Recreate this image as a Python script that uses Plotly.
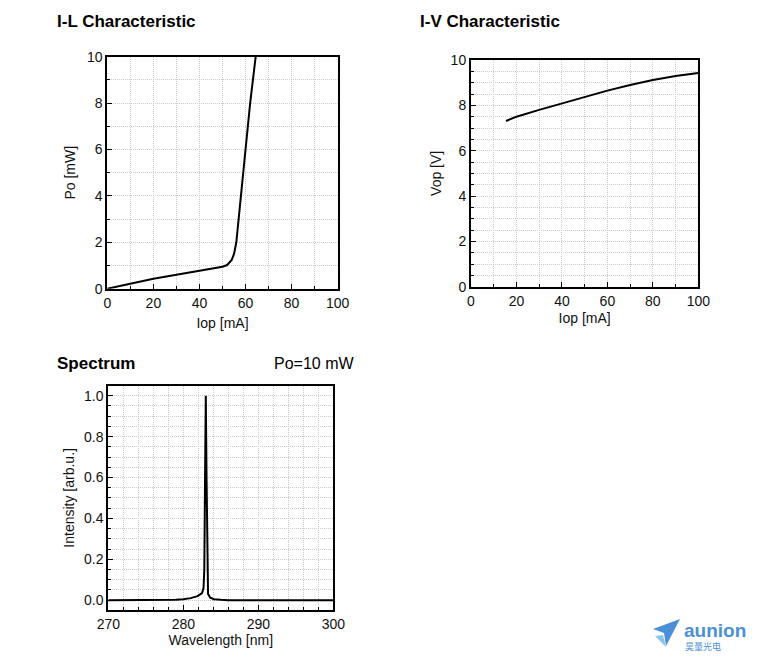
import plotly.graph_objects as go

# ---- data ----
il_current = [0, 10, 20, 30, 40, 50, 52, 54, 55, 56, 58, 60, 62, 64.4]
il_power = [0, 0.22, 0.43, 0.6, 0.78, 0.95, 1.02, 1.24, 1.5, 2.0, 4.0, 6.0, 8.0, 10.0]

iv_current = [15.4, 20, 30, 40, 50, 60, 70, 80, 90, 100]
iv_voltage = [7.31, 7.5, 7.8, 8.09, 8.38, 8.65, 8.9, 9.12, 9.29, 9.43]

sp_wavelength = [270, 275, 279, 280, 281, 281.9, 282.5, 282.7, 282.8, 282.9, 283.0,
                 283.1, 283.2, 283.3, 283.6, 284.1, 285, 286, 300]
sp_intensity = [0, 0, 0.002, 0.005, 0.01, 0.02, 0.035, 0.06, 0.15, 0.6, 1.0,
                0.6, 0.1, 0.03, 0.012, 0.005, 0.002, 0, 0]

FONT = "Liberation Sans, Arial, sans-serif"
GRID = "#cbcbcb"
DASH = "1px,1px"
W, H = 760, 659
OFF = 8  # page body margin


def px(x):
    return (x - OFF) / W


def py(y):
    return 1 - (y - OFF) / H


fig = go.Figure()
fig.add_trace(go.Scatter(x=il_current, y=il_power, mode="lines",
                         line=dict(color="black", width=2), xaxis="x", yaxis="y"))
fig.add_trace(go.Scatter(x=iv_current, y=iv_voltage, mode="lines",
                         line=dict(color="black", width=2), xaxis="x2", yaxis="y2"))
fig.add_trace(go.Scatter(x=sp_wavelength, y=sp_intensity, mode="lines",
                         line=dict(color="black", width=2), xaxis="x3", yaxis="y3"))


def ax(domain, rng, dtick, minor, title, anchor, standoff, tick0=0, fmt=None):
    d = dict(domain=domain, range=rng, dtick=dtick, tick0=tick0, automargin=False,
             showline=True, linecolor="black", linewidth=2, mirror=True,
             ticks="inside", ticklen=5, tickcolor="black", tickwidth=1,
             showgrid=True, gridcolor=GRID, griddash=DASH, gridwidth=1,
             zeroline=False, anchor=anchor,
             tickfont=dict(family=FONT, size=14, color="#111111"),
             title=dict(text=title, font=dict(family=FONT, size=14, color="#111111"),
                        standoff=standoff),
             minor=dict(dtick=minor, tick0=tick0, ticks="inside", ticklen=3, tickcolor="black",
                        showgrid=True, gridcolor=GRID, griddash=DASH, gridwidth=1))
    if fmt:
        d["tickformat"] = fmt
    return d


fig.update_layout(
    width=W, height=H,
    margin=dict(l=0, r=0, t=0, b=0),
    paper_bgcolor="white", plot_bgcolor="white",
    showlegend=False,
    xaxis=ax([px(107.3), px(337.7)], [0, 100], 20, 10, "Iop [mA]", "y", 9),
    yaxis=ax([py(288.7), py(56.7)], [0, 10], 2, 1, "Po [mW]", "x", 8),
    xaxis2=ax([px(471), px(698.3)], [0, 100], 20, 10, "Iop [mA]", "y2", 6),
    yaxis2=ax([py(286.7), py(60)], [0, 10], 2, 0.5, "Vop [V]", "x2", 6),
    xaxis3=ax([px(108.3), px(333.3)], [270, 300], 10, 2, "Wavelength [nm]", "y3", 4, tick0=270),
    yaxis3=ax([py(610), py(385.7)], [-0.048, 1.049], 0.2, 0.05, "Intensity [arb.u.]", "x3", 6, fmt=".1f"),
)

ann = [
    dict(text="<b>I-L Characteristic</b>", x=px(55), y=py(22), size=17, xa="left"),
    dict(text="<b>I-V Characteristic</b>", x=px(418), y=py(22), size=17, xa="left"),
    dict(text="<b>Spectrum</b>", x=px(55), y=py(364), size=17, xa="left"),
    dict(text="Po=10 mW", x=px(356), y=py(364), size=16, xa="right"),
]
for a in ann:
    fig.add_annotation(text=a["text"], x=a["x"], y=a["y"], xref="paper", yref="paper",
                       xanchor=a["xa"], yanchor="middle", showarrow=False,
                       font=dict(family=FONT, size=a["size"], color="black"))

# logo
fig.add_annotation(text="<b>aunion</b>", x=px(682), y=py(630), xref="paper", yref="paper",
                   xanchor="left", yanchor="middle", showarrow=False,
                   font=dict(family=FONT, size=19, color="#4a8fd8"))
fig.add_annotation(text="昊量光电", x=px(683), y=py(646), xref="paper", yref="paper",
                   xanchor="left", yanchor="middle", showarrow=False,
                   font=dict(family="Noto Sans CJK SC", size=9, color="#4a8fd8"))
fig.add_shape(type="path", xref="paper", yref="paper",
              path=f"M {px(653)} {py(629)} L {px(680)} {py(619)} L {px(666)} {py(646)} L {px(664)} {py(633)} Z",
              fillcolor="#4a8fd8", line=dict(width=0))
fig.add_shape(type="path", xref="paper", yref="paper",
              path=f"M {px(655)} {py(636)} L {px(663)} {py(635)} L {px(666)} {py(647)} Z",
              fillcolor="#8cc4ee", line=dict(width=0))

fig.write_html("out.html")
